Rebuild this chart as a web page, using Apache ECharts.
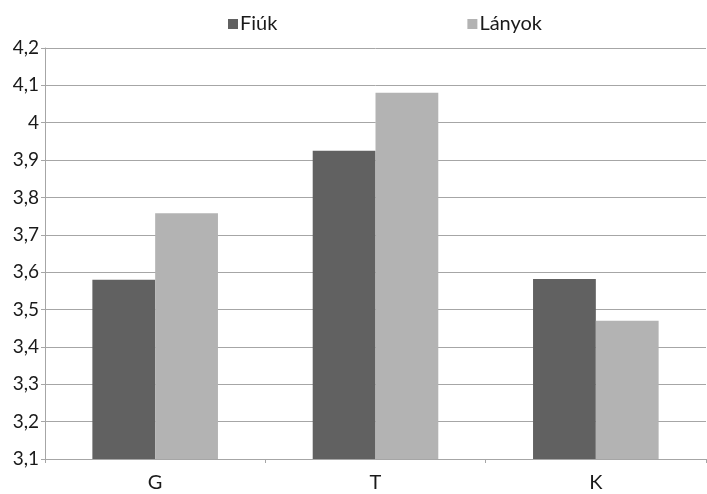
<!DOCTYPE html>
<html>
<head>
<meta charset="utf-8">
<script src="https://cdn.jsdelivr.net/npm/echarts@6/dist/echarts.min.js"></script>
<style>html,body{margin:0;padding:0;background:#fff}#c{width:707px;height:494px}</style>
</head>
<body>
<div id="c"></div>
<script>
const categories = ['G', 'T', 'K'];
const fiuk = [3.58, 3.925, 3.582];
const lanyok = [3.758, 4.08, 3.47];
const seriesNames = ['Fiúk', 'Lányok'];

const chart = echarts.init(document.getElementById('c'), null, {renderer: 'canvas'});
const font = 'Lato, "Open Sans", sans-serif';
chart.setOption({
  animation: false,
  legend: {
    data: seriesNames,
    left: 223,
    top: 9,
    itemWidth: 10,
    itemHeight: 10,
    itemGap: 190,
    icon: 'rect',
    textStyle: {fontFamily: font, fontSize: 20, color: '#1a1a1a', padding: [0,0,0,-3]}
  },
  grid: {left: 45, right: 1, top: 48, bottom: 35, containLabel: false},
  xAxis: {
    type: 'category',
    data: categories,
    axisLine: {lineStyle: {color: '#a6a6a6', width: 1}},
    axisTick: {show: true, length: 4, lineStyle: {color: '#a6a6a6'}},
    axisLabel: {fontFamily: font, fontSize: 20, color: '#1a1a1a', margin: 14}
  },
  yAxis: {
    type: 'value',
    min: 3.1,
    max: 4.2,
    interval: 0.1,
    axisLine: {show: true, lineStyle: {color: '#a6a6a6'}},
    axisTick: {show: true, length: 4, lineStyle: {color: '#a6a6a6'}},
    splitLine: {lineStyle: {color: '#a6a6a6', width: 1}},
    axisLabel: {
      fontFamily: font, fontSize: 19, color: '#1a1a1a', margin: 6,
      formatter: v => {
        const r = Math.round(v * 10) / 10;
        return String(r).replace('.', ',');
      }
    }
  },
  series: [
    {name: seriesNames[0], type: 'bar', data: fiuk, itemStyle: {color: '#616161'}, barGap: '0%', barCategoryGap: '43%'},
    {name: seriesNames[1], type: 'bar', data: lanyok, itemStyle: {color: '#b3b3b3'}, barGap: '0%', barCategoryGap: '43%'}
  ]
});
</script>
</body>
</html>
